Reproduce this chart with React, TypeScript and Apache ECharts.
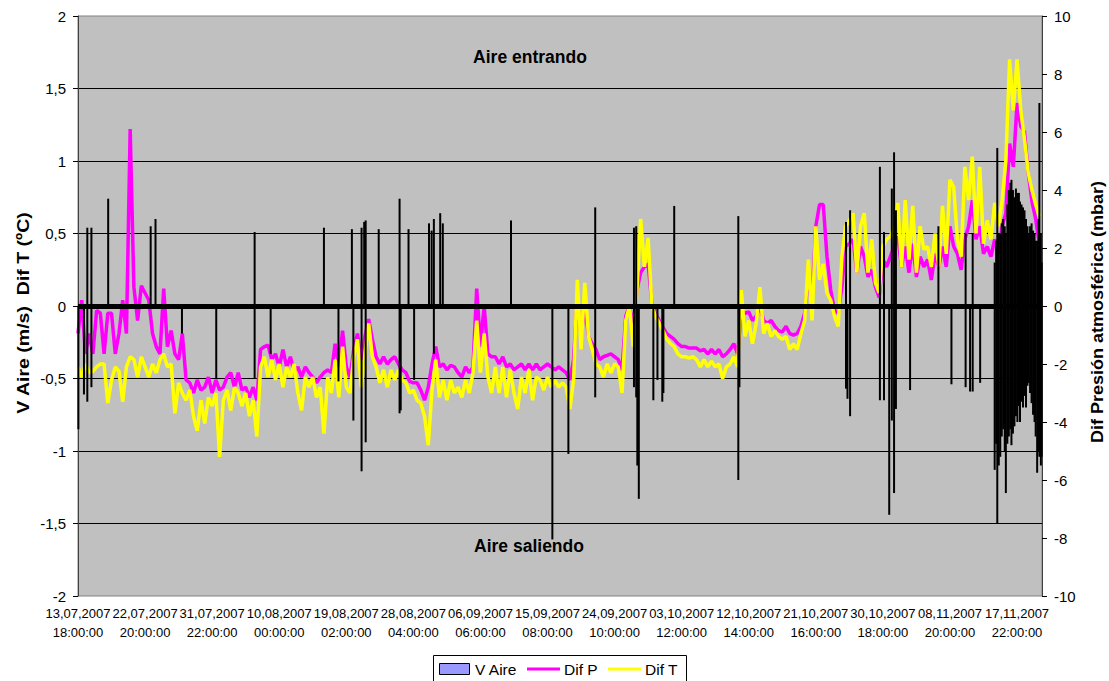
import React, { useEffect, useRef } from 'react';
import * as echarts from 'echarts';

const FONT = 'Arial, "Liberation Sans", sans-serif';

// x axis: sample index (one sample ~ 12 h), a date label every 18 samples
const tickDates = ['13,07,2007', '22,07,2007', '31,07,2007', '10,08,2007', '19,08,2007', '28,08,2007', '06,09,2007', '15,09,2007', '24,09,2007', '03,10,2007', '12,10,2007', '21,10,2007', '30,10,2007', '08,11,2007', '17,11,2007'];
const tickTimes = ['18:00:00', '20:00:00', '22:00:00', '00:00:00', '02:00:00', '04:00:00', '06:00:00', '08:00:00', '10:00:00', '12:00:00', '14:00:00', '16:00:00', '18:00:00', '20:00:00', '22:00:00'];
const samplesPerTick = 18;
const lastSample = 258.7;

// Dif T (ºC), left axis
const difT = [
  -0.42, -0.49, -0.40, -0.46, -0.45, -0.42, -0.40, -0.40, -0.67, -0.51,
  -0.42, -0.45, -0.66, -0.42, -0.35, -0.37, -0.49, -0.35, -0.42, -0.49,
  -0.40, -0.46, -0.37, -0.33, -0.42, -0.40, -0.74, -0.53, -0.60, -0.65,
  -0.58, -0.76, -0.86, -0.65, -0.81, -0.63, -0.69, -0.60, -1.04, -0.65,
  -0.58, -0.72, -0.56, -0.60, -0.69, -0.60, -0.76, -0.65, -0.90, -0.42,
  -0.35, -0.49, -0.37, -0.51, -0.40, -0.56, -0.42, -0.49, -0.40, -0.60,
  -0.72, -0.49, -0.56, -0.49, -0.63, -0.56, -0.88, -0.49,
  -0.60, -0.37, -0.63, -0.28, -0.56, -0.60, -0.35, -0.23, -0.56, -0.33,
  -0.12, -0.35, -0.42, -0.53, -0.44, -0.56, -0.44, -0.51, -0.44, -0.51,
  -0.53, -0.60, -0.58, -0.65, -0.67, -0.76, -0.96, -0.58, -0.37, -0.63,
  -0.51, -0.65, -0.51, -0.60, -0.56, -0.63, -0.51, -0.60, -0.46, -0.10,
  -0.46, -0.19, -0.49, -0.60, -0.42, -0.60, -0.42, -0.63, -0.44, -0.60,
  -0.71, -0.49, -0.60, -0.44, -0.65, -0.49, -0.51, -0.58, -0.49, -0.56,
  -0.51, -0.56, -0.53, -0.56, -0.71,
  -0.51, 0.18, -0.30, 0.16, -0.21, -0.30, -0.40, -0.42, -0.49, -0.40,
  -0.46, -0.40, -0.42, -0.60, -0.10, 0.00, -0.28, 0.11, 0.60, 0.27,
  0.47, 0.00, -0.07, -0.12, -0.17, -0.23, -0.26, -0.28, -0.33, -0.35,
  -0.35, -0.36, -0.35, -0.37, -0.42, -0.37, -0.42, -0.38, -0.42, -0.40,
  -0.50, -0.42, -0.40, -0.35, -0.42, 0.11, -0.21, -0.10, -0.26, -0.12,
  0.13, -0.19, -0.12, -0.21, -0.17, -0.21, -0.23, -0.21, -0.30, -0.26,
  -0.30, -0.19, -0.10, 0.32,
  -0.10, 0.55, 0.18, 0.29, 0.09, 0.04, -0.07, -0.14, 0.34, 0.55,
  0.59, 0.64, 0.23, 0.55, 0.64, 0.23, 0.46, 0.16, 0.09, 0.41,
  0.46, 0.48, 0.55, 0.71, 0.27, 0.73, 0.32, 0.69, 0.23, 0.55,
  0.39, 0.41, 0.27, 0.50, 0.27, 0.69, 0.36, 0.87, 0.82, 0.46,
  0.34, 0.96, 0.73, 1.03, 0.50, 0.96, 0.43, 0.59, 0.46, 0.71,
  0.55, 0.73, 1.00, 1.70, 1.35, 1.70, 1.35, 1.15, 0.92, 0.80,
  0.70, 0.62,
];

// Dif P (mbar), right axis
const difP = [
  -0.95, 0.2, -1.65, -0.95, -1.65, -0.15, -0.25, -1.65, -0.25, -0.25,
  -1.65, -0.95, 0.2, -0.95, 6.1, 0.65, -0.5, 0.7, 0.45, 0.2,
  -0.95, -1.4, -1.65, 0.6, -1.4, -0.85, -1.65, -1.85, -0.95, -2.55,
  -2.65, -3.0, -2.55, -2.9, -2.8, -2.45, -3.0, -2.55, -2.9, -2.8,
  -2.45, -2.3, -2.8, -2.3, -2.9, -2.8, -3.15, -2.8, -3.25, -1.5,
  -1.4, -1.35, -1.85, -1.65, -2.1, -1.5, -2.1, -1.75, -2.3, -2.1,
  -2.45, -2.1, -2.3, -2.45, -2.65, -2.45, -2.3, -2.2,
  -2.3, -1.3, -2.1, -0.85, -2.1, -2.45, -1.5, -0.95, -1.85, -1.05,
  -0.45, -1.15, -1.75, -2.0, -1.75, -2.0, -1.85, -1.75, -2.0, -2.2,
  -2.3, -2.6, -2.65, -2.65, -2.9, -3.25, -2.8, -2.0, -1.4, -2.1,
  -2.0, -2.2, -2.05, -2.1, -2.3, -2.45, -2.1, -2.3, -2.1, 0.6,
  -1.4, 0.0, -1.65, -1.75, -1.75, -2.0, -1.75, -2.1, -2.0, -2.2,
  -2.1, -2.0, -2.2, -2.0, -2.2, -2.0, -2.2, -2.1, -2.0, -2.1,
  -2.2, -2.1, -2.2, -2.3, -2.55,
  -1.85, 0.3, -1.05, 0.0, -1.05, -1.3, -1.5, -1.85, -1.75, -1.7,
  -1.65, -1.75, -1.85, -2.2, -0.35, 0.0, -0.7, 0.55, 1.15, 1.35,
  1.45, 0.1, -0.25, -0.5, -0.75, -0.95, -1.05, -1.15, -1.3, -1.4,
  -1.4, -1.45, -1.45, -1.45, -1.55, -1.5, -1.65, -1.5, -1.65, -1.5,
  -1.75, -1.65, -1.5, -1.3, -1.65, -0.25, -0.25, -0.2, -0.5, -0.35,
  0.0, -0.5, -0.6, -0.5, -0.7, -0.85, -0.9, -0.7, -0.95, -1.0,
  -0.95, -0.7, -0.25, 0.9,
  0.2, 2.75, 3.5, 3.5, 1.7, 0.55, -0.15, -0.25, 0.65, 2.05,
  2.15, 2.3, 1.15, 2.05, 1.7, 1.0, 1.25, 0.65, 0.3, 1.6,
  1.35, 1.7, 2.05, 2.4, 1.35, 2.05, 1.15, 2.15, 1.0, 1.7,
  1.35, 1.6, 0.9, 1.8, 1.35, 2.05, 1.35, 2.75, 2.05, 1.8,
  1.25, 2.3, 2.75, 3.65, 2.3, 2.75, 1.8, 2.05, 1.7, 2.3,
  1.8, 2.75, 3.2, 5.6, 4.8, 7.0, 6.2, 6.0, 4.6, 3.6,
  3.0, 2.1,
];

// V Aire (m/s): isolated readings (sample position, value)
const vAireAt = [
  0.1, 1.6, 2.5, 2.5, 3.6, 3.6, 8.1, 19.5, 20.8, 27.9, 37.1, 47.4, 47.4, 51.7, 66.0,
  69.9, 73.5, 73.9, 76.1, 76.1, 76.8, 77.2, 77.2, 80.7, 86.3, 86.3, 86.6, 88.7, 90.2, 94.2, 94.9, 95.5, 95.5, 97.2, 97.9, 116.2, 127.3, 131.6,
  138.8, 138.8, 149.2, 149.2, 149.8, 149.8, 150.1, 150.5, 154.4, 155.5, 156.8, 157.1, 160.0, 177.2, 177.2, 177.5,
  206.1, 206.1, 206.5, 207.2, 207.2, 215.2, 215.2, 216.3, 216.3, 217.7, 218.4, 218.4, 219.0, 219.0, 219.5, 219.5, 223.3, 230.9, 234.4, 238.2, 238.2, 239.4, 240.1, 240.1, 242.1,
];
const vAire = [
  -0.85, -0.61, 0.54, -0.66, 0.54, -0.56, 0.74, 0.55, 0.60, -0.19, -0.50, 0.51, -0.50, -0.33, 0.54,
  -0.52, 0.53, -0.79, 0.54, -1.14, 0.58, 0.59, -0.94, 0.53, 0.74, -0.74, -0.72, 0.53, -0.51, 0.57, 0.52, 0.60, -0.33, 0.64, 0.57, 0.59, -1.61, -1.02,
  0.68, -0.63, 0.54, -0.56, 0.55, -0.63, -1.10, -1.33, -0.65, -0.51, -0.66, -0.60, 0.69, 0.62, -1.20, -0.56,
  0.58, -0.57, -0.64, 0.66, -0.76, 0.96, -0.65, 0.51, -0.65, -1.44, 0.81, -0.79, 1.06, -1.29, 0.66, -0.71, -0.58, 0.55, -0.54, 0.50, -0.56, -0.59, 0.50, -0.59, -0.53,
];
// V Aire (m/s): dense oscillation at the end (position, max, min)
const vAireDenseAt = [246.0, 246.4, 246.7, 247.1, 247.5, 247.9, 248.3, 248.7, 249.0, 249.4, 249.8, 250.2, 250.5, 250.9, 251.3, 251.7, 252.1, 252.5, 252.8, 253.2, 253.6, 254.0, 254.4, 254.8, 255.1, 255.5, 255.9, 256.3, 256.7, 257.0, 257.4, 257.8, 258.0, 258.4, 258.6];
const vAireDenseUp = [0.30, 0.45, 1.09, 0.50, 0.50, 0.57, 0.60, 0.55, 0.50, 0.70, 0.80, 0.85, 0.87, 0.80, 0.75, 0.81, 0.78, 0.78, 0.72, 0.70, 0.68, 0.66, 0.60, 0.55, 0.50, 0.55, 0.57, 0.52, 0.50, 0.45, 0.45, 0.60, 1.40, 0.50, 0.30];
const vAireDenseDown = [-1.13, -0.95, -1.50, -1.10, -1.04, -0.90, -0.85, -1.00, -1.29, -0.95, -0.90, -0.85, -0.96, -0.88, -0.83, -0.76, -0.80, -0.69, -0.80, -0.66, -0.70, -0.62, -0.70, -0.55, -0.53, -0.60, -0.67, -0.75, -0.80, -0.90, -1.15, -1.00, -1.04, -1.10, -1.04];

const seriesNames = ['V Aire', 'Dif P', 'Dif T'];
const seriesColors = ['#000000', '#FF00FF', '#FFFF00'];
const legendBarColor = '#9999FF';
const leftTitle = 'V Aire (m/s)  Dif T (ºC)';
const rightTitle = 'Dif Presión atmosférica (mbar)';
const noteIn = 'Aire entrando';
const noteOut = 'Aire saliendo';

const txt = (text: string, x: number, y: number, size: number, bold: boolean, align: string, extra: any = {}) => ({
  type: 'text', x, y, z: 100, ...extra,
  style: {
    text, fontSize: size, fontWeight: bold ? 'bold' : 'normal', fontFamily: FONT, fill: '#000',
    align, verticalAlign: 'middle', textAlign: align, textVerticalAlign: 'middle',
  },
});

export default function App() {
  const ref = useRef<HTMLDivElement>(null);

  useEffect(() => {
    const chart = echarts.init(ref.current as HTMLDivElement, null, { renderer: 'svg' });

    const barData: number[][] = [];
    vAireAt.forEach((x, i) => barData.push([x, vAire[i]]));
    vAireDenseAt.forEach((x, i) => {
      barData.push([x, vAireDenseUp[i]]);
      barData.push([x, vAireDenseDown[i]]);
    });

    const legendY = 669;
    const option: any = {
      animation: false,
      backgroundColor: '#ffffff',
      textStyle: { fontFamily: FONT },
      grid: {
        left: 78, right: 67, top: 16, bottom: 85,
        show: true, backgroundColor: '#C0C0C0', borderColor: '#808080', borderWidth: 1,
      },
      xAxis: {
        type: 'value', min: 0, max: lastSample, interval: samplesPerTick,
        axisLine: { show: false }, axisTick: { show: false }, splitLine: { show: false },
        axisLabel: {
          color: '#000', fontSize: 13, lineHeight: 19, margin: 8, fontFamily: FONT,
          showMaxLabel: false,
          formatter: (v: number) => {
            const k = Math.round(v / samplesPerTick);
            if (Math.abs(v - k * samplesPerTick) > 0.01 || k >= tickDates.length) return '';
            return tickDates[k] + '\n' + tickTimes[k];
          },
        },
      },
      yAxis: [
        {
          type: 'value', min: -2, max: 2, interval: 0.5,
          axisLine: { show: true, lineStyle: { color: '#404040', width: 1 } },
          axisTick: { show: true, length: 5, lineStyle: { color: '#000' } },
          axisLabel: { color: '#000', fontSize: 15, margin: 12, fontFamily: FONT, formatter: (v: number) => String(v).replace('.', ',') },
          splitLine: { show: true, showMinLine: false, showMaxLine: false, lineStyle: { color: '#000', width: 1 } },
        },
        {
          type: 'value', min: -10, max: 10, interval: 2, position: 'right',
          axisLine: { show: true, lineStyle: { color: '#404040', width: 1 } },
          axisTick: { show: true, length: 5, lineStyle: { color: '#000' } },
          axisLabel: { color: '#000', fontSize: 15, margin: 12, fontFamily: FONT },
          splitLine: { show: false },
        },
      ],
      series: [
        {
          name: seriesNames[1], type: 'line', yAxisIndex: 1, symbol: 'none', z: 2,
          color: seriesColors[1],
          lineStyle: { color: seriesColors[1], width: 3.5 },
          data: difP.map((v, i) => [i, v]),
        },
        {
          name: seriesNames[2], type: 'line', yAxisIndex: 0, symbol: 'none', z: 3,
          color: seriesColors[2],
          lineStyle: { color: seriesColors[2], width: 3.5 },
          data: difT.map((v, i) => [i, v]),
        },
        {
          name: seriesNames[0], type: 'bar', yAxisIndex: 0, barWidth: 2, z: 4,
          itemStyle: { color: seriesColors[0] },
          data: barData,
          markLine: {
            silent: true, symbol: ['none', 'none'], label: { show: false },
            lineStyle: { color: '#000', width: 5, type: 'solid' },
            data: [{ yAxis: 0 }],
          },
        },
      ],
      graphic: [
        txt(noteIn, 530, 57, 17.5, true, 'center'),
        txt(noteOut, 529, 546, 17.5, true, 'center'),
        txt(leftTitle, 23, 313, 17, true, 'center', { rotation: Math.PI / 2, scaleX: 1.15 }),
        txt(rightTitle, 1097, 312, 17, true, 'center', { rotation: Math.PI / 2, scaleX: 1.06 }),
        // legend box
        { type: 'rect', z: 90, shape: { x: 433.5, y: 655.5, width: 253, height: 30 }, style: { fill: '#fff', stroke: '#000', lineWidth: 1 } },
        { type: 'rect', z: 95, shape: { x: 439.5, y: 663.5, width: 30, height: 11 }, style: { fill: legendBarColor, stroke: '#000', lineWidth: 1 } },
        txt(seriesNames[0], 475, legendY, 15.5, false, 'left'),
        { type: 'line', z: 95, shape: { x1: 527, y1: legendY, x2: 560, y2: legendY }, style: { stroke: seriesColors[1], lineWidth: 3 } },
        txt(seriesNames[1], 564, legendY, 15.5, false, 'left'),
        { type: 'line', z: 95, shape: { x1: 608, y1: legendY, x2: 641, y2: legendY }, style: { stroke: seriesColors[2], lineWidth: 3 } },
        txt(seriesNames[2], 645, legendY, 15.5, false, 'left'),
      ],
    };

    chart.setOption(option);
    return () => chart.dispose();
  }, []);

  return <div ref={ref} style={{ position: 'fixed', left: 0, top: 0, width: 1109, height: 681, background: '#fff' }} />;
}
